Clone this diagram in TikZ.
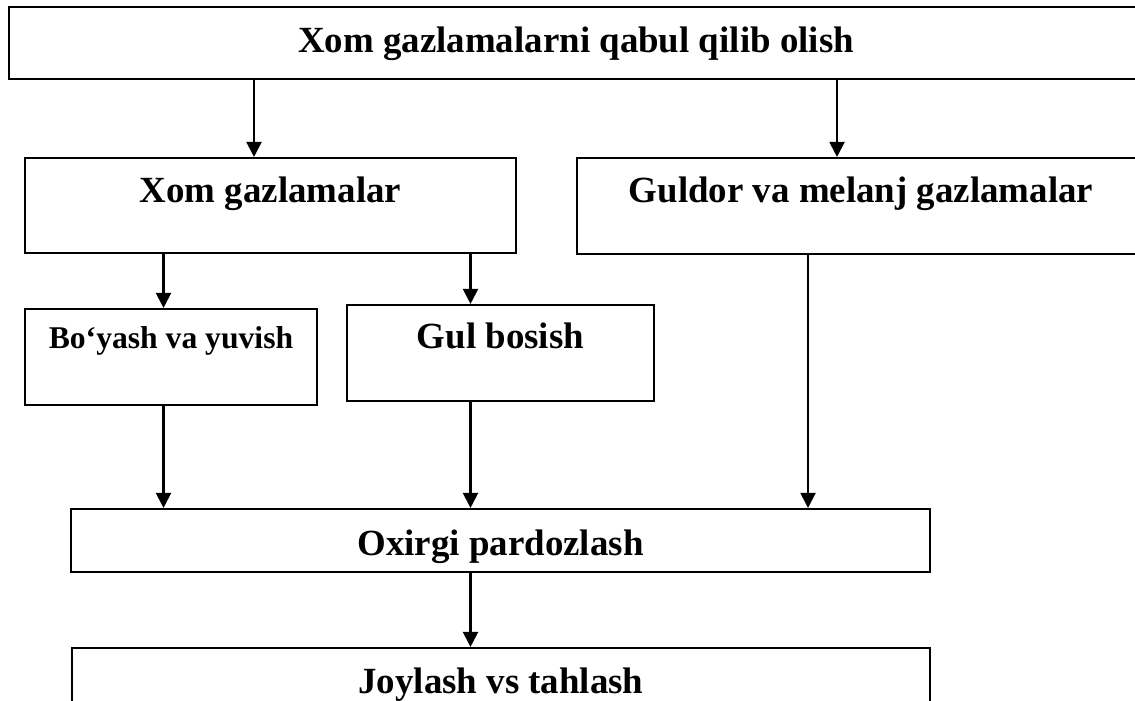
\documentclass[tikz,border=0pt]{standalone}
\usepackage{fontspec}
\setmainfont{Liberation Serif}
\usetikzlibrary{arrows.meta}
\tikzset{
  blok/.style={draw, line width=0.042cm, rectangle, inner sep=0pt},
  matn/.style={anchor=base, inner sep=0pt, font=\bfseries\fontsize{21}{24}\selectfont},
  strelka/.style={line width=0.042cm, -{Triangle[length=0.3cm,width=0.3cm]}}
}

\begin{document}
\begin{tikzpicture}
\useasboundingbox (0,0) rectangle (22.7,14);

% Drawing boxes
\node[blok, minimum width=22.62cm, minimum height=1.44cm] (qabul) at (11.49,13.14) {};
\node[blok, minimum width=9.82cm, minimum height=1.90cm] (xom) at (5.41,9.89) {};
\node[blok, minimum width=11.26cm, minimum height=1.92cm] (guldor) at (17.17,9.88) {};
\node[blok, minimum width=5.84cm, minimum height=1.92cm] (boyash) at (3.42,6.86) {};
\node[blok, minimum width=6.14cm, minimum height=1.92cm] (gul) at (10.01,6.94) {};
\node[blok, minimum width=17.18cm, minimum height=1.26cm] (oxirgi) at (10.01,3.19) {};
\node[blok, minimum width=17.16cm, minimum height=1.44cm] (joylash) at (10.02,0.32) {};

% Drawing texts
\node[matn] (qabulT) at (11.52,12.94) {Xom gazlamalarni qabul qilib olish};
\node[matn] (xomT) at (5.41,9.94) {Xom gazlamalar};
\node[matn] (guldorT) at (17.22,9.94) {Guldor va melanj gazlamalar};
\node[matn, font=\bfseries\fontsize{18}{21}\selectfont] (boyashT) at (3.42,7.02) {Bo‘yash va yuvish};
\node[matn] (gulT) at (10.01,7.02) {Gul bosish};
\node[matn] (oxirgiT) at (10.01,2.90) {Oxirgi pardozlash};
\node[matn] (joylashT) at (10.02,0.14) {Joylash vs tahlash};

% Arrow columns
\coordinate (k1) at (5.08,0);
\coordinate (k2) at (16.74,0);
\coordinate (k3) at (3.27,0);
\coordinate (k4) at (9.41,0);
\coordinate (k5) at (16.16,0);

% Drawing arrows
\draw[strelka] (qabul.south -| k1) -- (xom.north -| k1);
\draw[strelka] (qabul.south -| k2) -- (guldor.north -| k2);
\draw[strelka] (xom.south -| k3) -- (boyash.north -| k3);
\draw[strelka] (xom.south -| k4) -- (gul.north -| k4);
\draw[strelka] (boyash.south -| k3) -- (oxirgi.north -| k3);
\draw[strelka] (gul.south -| k4) -- (oxirgi.north -| k4);
\draw[strelka] (guldor.south -| k5) -- (oxirgi.north -| k5);
\draw[strelka] (oxirgi.south -| k4) -- (joylash.north -| k4);
\end{tikzpicture}
\end{document}
